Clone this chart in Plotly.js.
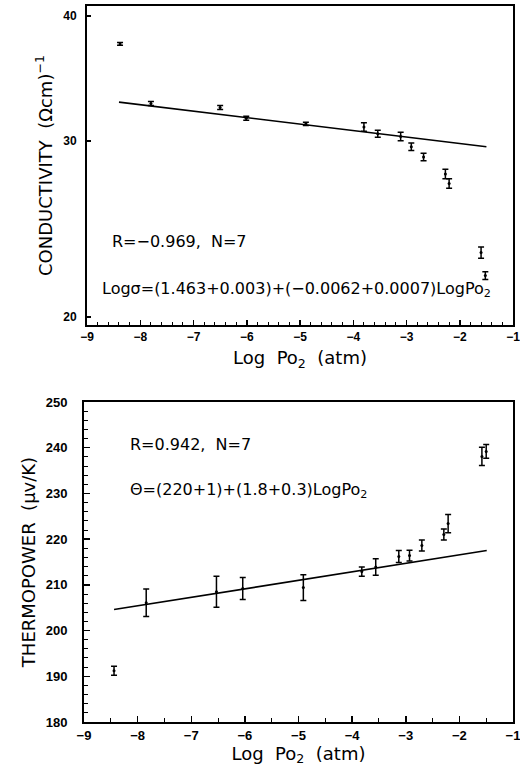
<!DOCTYPE html>
<html>
<head>
<meta charset="utf-8">
<script src="https://cdn.plot.ly/plotly-3.0.1.min.js"></script>
<style>html,body{margin:0;padding:0;background:#fff;}#chart{width:520px;height:769px;}</style>
</head>
<body>
<div id="chart"></div>
<script>
// Conductivity (top panel)
const condLogPo2 = [-8.38, -7.80, -6.50, -6.01, -4.89, -3.80, -3.54, -3.11, -2.91, -2.68, -2.27, -2.20, -1.60, -1.52];
const condValues = [37.5, 32.7, 32.4, 31.6, 31.2, 30.97, 30.5, 30.3, 29.6, 28.9, 27.8, 27.2, 23.2, 22.0];
const condErrors = [0.12, 0.15, 0.15, 0.15, 0.12, 0.3, 0.25, 0.3, 0.25, 0.25, 0.3, 0.3, 0.3, 0.2];
const condFitX = [-8.4, -1.5];
const condFitY = [32.8, 29.6];

// Thermopower (bottom panel)
const thermoLogPo2 = [-8.44, -7.84, -6.53, -6.04, -4.91, -3.82, -3.56, -3.13, -2.93, -2.70, -2.29, -2.21, -1.58, -1.50];
const thermoValues = [191.2, 206.1, 208.5, 209.2, 209.4, 212.9, 213.9, 216.2, 216.4, 218.6, 221.0, 223.4, 238.1, 239.2];
const thermoErrors = [1.0, 3.0, 3.4, 2.4, 2.8, 1.0, 1.8, 1.3, 1.2, 1.2, 1.2, 2.0, 2.0, 1.5];
const thermoFitX = [-8.44, -1.49];
const thermoFitY = [204.6, 217.5];

const xTicks = [-9, -8, -7, -6, -5, -4, -3, -2, -1];
const condTicks = [20, 30, 40];
const thermoTicks = [180, 190, 200, 210, 220, 230, 240, 250];

const tickFont = {family: 'Liberation Sans, Arial, sans-serif', size: 13, color: '#000', weight: 700};
const textFont = {family: 'DejaVu Sans, sans-serif', size: 16, color: '#000'};
const titleFont = {family: 'DejaVu Sans, sans-serif', size: 18, color: '#000'};

const traces = [
  {x: condLogPo2, y: condValues, type: 'scatter', mode: 'markers', xaxis: 'x', yaxis: 'y',
   marker: {color: '#000', size: 3},
   error_y: {type: 'data', array: condErrors, visible: true, color: '#000', thickness: 1.5, width: 3}},
  {x: condFitX, y: condFitY, type: 'scatter', mode: 'lines', xaxis: 'x', yaxis: 'y',
   line: {color: '#000', width: 1.6}},
  {x: thermoLogPo2, y: thermoValues, type: 'scatter', mode: 'markers', xaxis: 'x2', yaxis: 'y2',
   marker: {color: '#000', size: 3},
   error_y: {type: 'data', array: thermoErrors, visible: true, color: '#000', thickness: 1.5, width: 3}},
  {x: thermoFitX, y: thermoFitY, type: 'scatter', mode: 'lines', xaxis: 'x2', yaxis: 'y2',
   line: {color: '#000', width: 1.6}}
];

const axisCommon = {showline: true, mirror: true, linecolor: '#000', linewidth: 2, showgrid: false,
  zeroline: false, ticks: 'inside', tickcolor: '#000', tickfont: tickFont, automargin: false};

const layout = {
  width: 520, height: 769,
  margin: {l: 84, r: 5, t: 6, b: 47},
  paper_bgcolor: '#fff', plot_bgcolor: '#fff',
  showlegend: false,
  xaxis: Object.assign({}, axisCommon, {
    domain: [0.007, 0.9954], anchor: 'y', range: [-9, -1],
    tickmode: 'array', tickvals: xTicks, ticklen: 5, tickwidth: 1.5,
    ticklabeloverflow: 'allow',
    minor: {ticks: 'inside', dtick: 0.2, tick0: -9, ticklen: 3, tickcolor: '#000', tickwidth: 1},
    tickfont: Object.assign({}, tickFont, {size: 12}),
    title: {text: 'Log  Po<sub>2</sub>  (atm)', font: titleFont, standoff: 8}
  }),
  yaxis: Object.assign({}, axisCommon, {
    domain: [0.5545, 1.0], anchor: 'x', type: 'log', range: [1.293, 1.612],
    tickmode: 'array', tickvals: condTicks, ticktext: ['20', '30', '40'], ticklen: 4, tickwidth: 1.5,
    tickfont: Object.assign({}, tickFont, {size: 12}), ticklabelstandoff: 6,
    title: {text: 'CONDUCTIVITY  (Ωcm)<sup>−1</sup>', font: titleFont, standoff: 6}
  }),
  xaxis2: Object.assign({}, axisCommon, {
    domain: [0.0, 0.9954], anchor: 'y2', range: [-9, -1],
    tickmode: 'array', tickvals: xTicks, ticklen: 6, tickwidth: 1.5,
    ticklabeloverflow: 'allow',
    minor: {ticks: 'inside', dtick: 0.5, tick0: -9, ticklen: 4, tickcolor: '#000', tickwidth: 1},
    title: {text: 'Log  Po<sub>2</sub>  (atm)', font: titleFont, standoff: 4}
  }),
  yaxis2: Object.assign({}, axisCommon, {
    domain: [0.0, 0.4469], anchor: 'x2', range: [180, 250],
    tickmode: 'array', tickvals: thermoTicks, ticklen: 6, tickwidth: 1.5,
    minor: {ticks: 'inside', dtick: 2, tick0: 180, ticklen: 4, tickcolor: '#000', tickwidth: 1},
    ticklabelstandoff: 12,
    title: {text: 'THERMOPOWER  (μv/K)', font: titleFont, standoff: 5}
  }),
  annotations: [
    {xref: 'paper', yref: 'paper', x: 0.0603, y: 0.6704, xanchor: 'left', yanchor: 'middle',
     text: 'R=−0.969,  N=7', showarrow: false, font: textFont},
    {xref: 'paper', yref: 'paper', x: 0.0371, y: 0.6034, xanchor: 'left', yanchor: 'middle',
     text: 'Logσ=(1.463+0.003)+(−0.0062+0.0007)LogPo<sub>2</sub>', showarrow: false, font: textFont},
    {xref: 'paper', yref: 'paper', x: 0.1021, y: 0.3869, xanchor: 'left', yanchor: 'middle',
     text: 'R=0.942,  N=7', showarrow: false, font: textFont},
    {xref: 'paper', yref: 'paper', x: 0.1021, y: 0.3240, xanchor: 'left', yanchor: 'middle',
     text: 'Θ=(220+1)+(1.8+0.3)LogPo<sub>2</sub>', showarrow: false, font: textFont}
  ]
};

Plotly.newPlot('chart', traces, layout, {staticPlot: true, displayModeBar: false});
</script>
</body>
</html>
